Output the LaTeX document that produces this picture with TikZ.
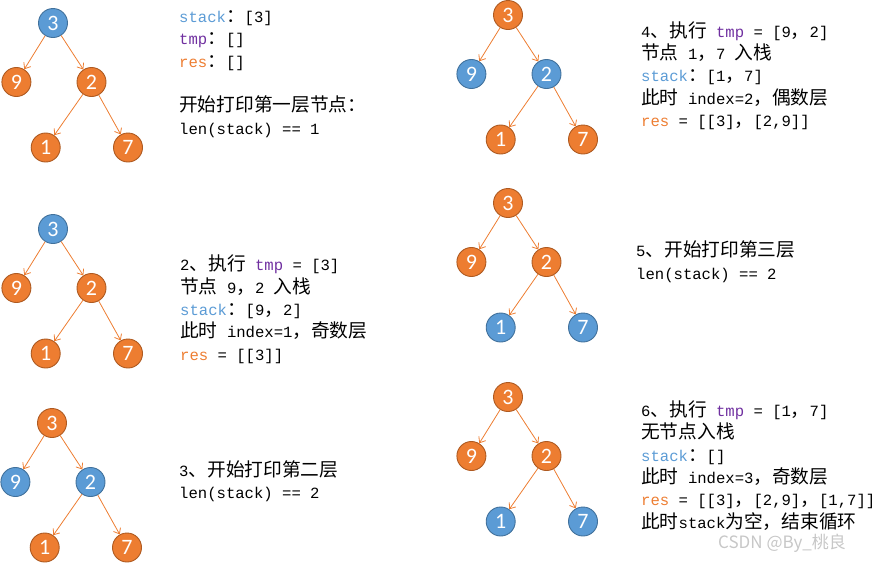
\documentclass[tikz,border=0pt]{standalone}
\usepackage{fontspec}
\setmainfont{Liberation Mono}
\newfontfamily\zhfont[Scale=1.2]{Noto Sans CJK SC}
\newfontfamily\numfont{Carlito}
\newfontfamily\markfont{Noto Sans CJK SC}
\usetikzlibrary{arrows.meta, calc}

\definecolor{nodeblue}{HTML}{5B9BD5}
\definecolor{blueline}{HTML}{41719C}
\definecolor{nodeorange}{HTML}{ED7D31}
\definecolor{orangeline}{HTML}{AE5A21}
\definecolor{kwstack}{HTML}{5B9BD5}
\definecolor{kwtmp}{HTML}{7030A0}
\definecolor{kwres}{HTML}{ED7D31}

\newcommand{\zh}[1]{{\zhfont #1}}
\newcommand{\kstack}{\textcolor{kwstack}{stack}}
\newcommand{\ktmp}{\textcolor{kwtmp}{tmp}}
\newcommand{\kres}{\textcolor{kwres}{res}}

% 二叉树: #1 名字前缀, #2 根结点位置, #3-#7 结点样式(3, 9, 2, 1, 7)
\newcommand{\bintree}[7]{
    \begin{scope}[shift={(#2)}]
        \node[#3] (#1r) at (0, 0) {3};
        \node[#4] (#1a) at (-36.6, 59) {9};
        \node[#5] (#1b) at (38.5, 59) {2};
        \node[#6] (#1c) at (-7.3, 124.5) {1};
        \node[#7] (#1d) at (75, 124.5) {7};
        \draw[link] (#1r) -- (#1a);
        \draw[link] (#1r) -- (#1b);
        \draw[link] (#1b) -- (#1c);
        \draw[link] (#1b) -- (#1d);
    \end{scope}
}

\begin{document}
\begin{tikzpicture}[
    x=1pt, y=-1pt,
    tnode/.style={circle, minimum size=29pt, inner sep=0pt, line width=0.9pt,
        text=white, font=\numfont\fontsize{22}{22}\selectfont}, % 结点
    bnode/.style={tnode, fill=nodeblue, draw=blueline},     % 蓝色结点
    onode/.style={tnode, fill=nodeorange, draw=orangeline}, % 橙色结点
    link/.style={draw=nodeorange, line width=0.8pt,
        -{Straight Barb[length=5pt, width=8pt]}},           % 父子连线
    txt/.style={anchor=base west, inner sep=0pt, align=left,
        font=\fontsize{15.6}{22.3}\selectfont}               % 说明文字(按最后一行定位)
]
    \useasboundingbox (0, 0) rectangle (875, 563);

    % 1. 六棵树
    \bintree{ta}{53, 23}{bnode}{onode}{onode}{onode}{onode}
    \bintree{tb}{53, 229}{bnode}{onode}{onode}{onode}{onode}
    \bintree{tc}{52, 423}{onode}{bnode}{bnode}{onode}{onode}
    \bintree{td}{508, 15}{onode}{bnode}{bnode}{onode}{onode}
    \bintree{te}{508, 203}{onode}{onode}{onode}{bnode}{bnode}
    \bintree{tf}{508, 397}{onode}{onode}{onode}{bnode}{bnode}

    % 2. 每一步的说明
    \node[txt] (step1) at (179, 134) {\kstack\zh{：}[3]\\
        \ktmp\zh{：}[]\\
        \kres\zh{：}[]\\[22.3pt]
        \zh{开始打印第一层节点：}\\
        len(stack) == 1};
    \node[txt] (step2) at (180, 360) {2\zh{、执行} \ktmp{} = [3]\\
        \zh{节点} 9\zh{，}2 \zh{入栈}\\
        \kstack\zh{：}[9\zh{，}2]\\
        \zh{此时} index=1\zh{，奇数层}\\
        \kres{} = [[3]]};
    \node[txt] (step3) at (179, 498.5) {3\zh{、开始打印第二层}\\
        len(stack) == 2};
    \node[txt] (step4) at (641, 126.5) {4\zh{、执行} \ktmp{} = [9\zh{，}2]\\
        \zh{节点} 1\zh{，}7 \zh{入栈}\\
        \kstack\zh{：}[1\zh{，}7]\\
        \zh{此时} index=2\zh{，偶数层}\\
        \kres{} = [[3]\zh{，}[2,9]]};
    \node[txt] (step5) at (636, 279) {5\zh{、开始打印第三层}\\
        len(stack) == 2};
    \node[txt] (step6) at (641, 528) {6\zh{、执行} \ktmp{} = [1\zh{，}7]\\
        \zh{无节点入栈}\\
        \kstack\zh{：}[]\\
        \zh{此时} index=3\zh{，奇数层}\\
        \kres{} = [[3]\zh{，}[2,9]\zh{，}[1,7]]\\
        \zh{此时}stack\zh{为空，结束循环}};

    % 3. 水印
    \node[anchor=base west, inner sep=0pt, text=black!22,
        font=\markfont\fontsize{17}{17}\selectfont] (mark) at (718, 548) {CSDN @By\_桃良};
\end{tikzpicture}
\end{document}
